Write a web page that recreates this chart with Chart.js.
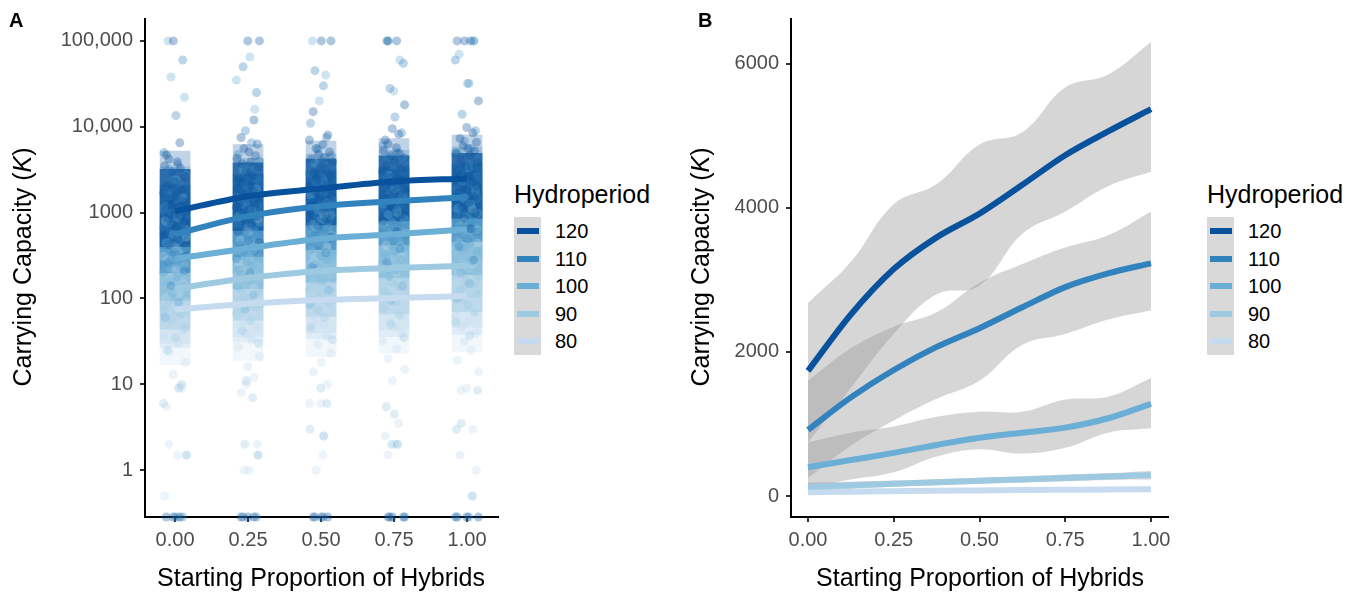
<!DOCTYPE html>
<html>
<head>
<meta charset="utf-8">
<script src="https://cdn.jsdelivr.net/npm/chart.js@4.4.1/dist/chart.umd.min.js"></script>
<style>
  body { margin: 0; background: #fff; width: 1360px; height: 592px; position: relative; overflow: hidden;
         font-family: 'Liberation Sans', Arial, Helvetica, sans-serif; }
  canvas { position: absolute; top: 0; }
  .txt { position: absolute; white-space: nowrap; color: #000; }
  .tag { font-size: 20px; line-height: 20px; font-weight: bold; top: 10px; }
  .xtitle { font-size: 25px; line-height: 25px; top: 565px; transform: translateX(-50%); }
  .ytitle { font-size: 25px; line-height: 25px; top: 267px; transform: translate(-50%, -50%) rotate(-90deg); }
  .ltitle { font-size: 25px; line-height: 25px; top: 182px; }
  .lbox { position: absolute; top: 217px; width: 27px; height: 138px; background: #d9d9d9; }
  .lkey { position: absolute; width: 22px; height: 6px; }
  .llab { font-size: 20px; line-height: 20px; }
</style>
</head>
<body>
<canvas id="chartA" width="505" height="592" style="left:0px;width:505px;height:592px"></canvas>
<canvas id="chartB" width="500" height="592" style="left:680px;width:500px;height:592px"></canvas>

<div class="txt tag" style="left:9px">A</div>
<div class="txt tag" style="left:698px">B</div>
<div class="txt xtitle" style="left:321px">Starting Proportion of Hybrids</div>
<div class="txt xtitle" style="left:980px">Starting Proportion of Hybrids</div>
<div class="txt ytitle" style="left:22px">Carrying Capacity (<i>K</i>)</div>
<div class="txt ytitle" style="left:700px">Carrying Capacity (<i>K</i>)</div>
<div id="legendA"></div>
<div id="legendB"></div>

<script>
// ---- 공통 데이터 ----
const hydroperiods = ['120', '110', '100', '90', '80'];
const hydroColors = ['#08519c', '#3182bd', '#6baed6', '#9ecae1', '#c6dbef'];
const proportions = [0, 0.25, 0.5, 0.75, 1];
const xTickLabels = ['0.00', '0.25', '0.50', '0.75', '1.00'];

// ---- A: 로그 축 ----
const yTicksA = [1, 10, 100, 1000, 10000, 100000];
const yTickLabelsA = ['1', '10', '100', '1000', '10,000', '100,000'];

// 모형 적합선 (A)
const fitA120 = [1040, 1550, 1910, 2300, 2500];
const fitA110 = [560, 910, 1190, 1360, 1510];
const fitA100 = [290, 385, 495, 560, 640];
const fitA90 = [130, 173, 209, 227, 240];
const fitA80 = [74, 87, 96, 101, 107];

// 점이 빽빽하게 겹친 구간 [하한, 상한] (열별)
const coreA120 = [[400, 3200], [620, 3800], [720, 4200], [800, 4600], [860, 4900]];
const coreA110 = [[200, 2100], [310, 2800], [370, 3100], [420, 3400], [460, 3700]];
const coreA100 = [[95, 900], [130, 1200], [155, 1450], [175, 1650], [190, 1850]];
const coreA90 = [[44, 400], [56, 520], [62, 600], [66, 650], [70, 700]];
const coreA80 = [[27, 200], [31, 250], [34, 280], [36, 300], [38, 320]];
// 덜 빽빽한 가장자리 구간
const fringeA120 = [[300, 5200], [450, 6200], [520, 6800], [600, 7300], [650, 8000]];
const fringeA110 = [[140, 3400], [200, 4300], [230, 4800], [260, 5300], [280, 5800]];
const fringeA100 = [[62, 1500], [78, 2000], [88, 2400], [98, 2700], [105, 3000]];
const fringeA90 = [[30, 600], [36, 800], [40, 900], [43, 1000], [46, 1100]];
const fringeA80 = [[17, 320], [19, 380], [21, 420], [23, 450], [24, 480]];

// 관측값 (열 = 시작 잡종 비율 0, .25, .5, .75, 1) ; 0 = 바닥
const obs120 = [
  [0, 0, 0, 310, 420, 500, 560, 620, 680, 730, 790, 850, 910, 970, 1030, 1100, 1170, 1250, 1340, 1450, 1560, 1700, 1850, 2050, 2300, 2600, 3000, 3300, 3500, 3900, 4200, 4700, 6500, 100000],
  [0, 0, 0, 450, 600, 720, 820, 900, 980, 1060, 1150, 1240, 1330, 1430, 1530, 1650, 1780, 1920, 2080, 2250, 2450, 2700, 3000, 3400, 3700, 3900, 4300, 4600, 5100, 5600, 6300, 7500, 12000, 100000, 100000],
  [0, 0, 0, 520, 700, 850, 980, 1100, 1200, 1300, 1400, 1500, 1620, 1750, 1880, 2000, 2150, 2300, 2480, 2700, 2950, 3200, 3500, 3900, 4200, 4400, 4800, 5100, 5600, 6200, 7000, 8000, 15000, 100000, 100000],
  [0, 0, 0, 600, 800, 950, 1080, 1200, 1320, 1450, 1570, 1700, 1830, 1960, 2100, 2250, 2400, 2580, 2780, 3000, 3250, 3550, 3900, 4300, 4600, 4900, 5300, 5700, 6300, 7000, 8200, 9500, 18000, 100000, 100000],
  [0, 0, 0, 650, 850, 1000, 1150, 1300, 1430, 1560, 1700, 1850, 2000, 2150, 2300, 2450, 2620, 2800, 3000, 3250, 3500, 3800, 4150, 4600, 4900, 5200, 5600, 6000, 6600, 7300, 8500, 9800, 20000, 100000, 100000, 100000]
];
const obs110 = [
  [0, 0, 140, 210, 260, 300, 340, 380, 420, 460, 500, 540, 580, 620, 670, 720, 780, 840, 910, 990, 1080, 1200, 1350, 1550, 1800, 2200, 2500, 2800, 3200, 3600, 5000, 60000, 13500],
  [0, 0, 200, 290, 360, 420, 480, 540, 600, 660, 720, 790, 860, 930, 1000, 1080, 1170, 1270, 1380, 1500, 1650, 1850, 2100, 2450, 2900, 3200, 3500, 4000, 4800, 6500, 9000, 25000, 50000],
  [0, 0, 230, 340, 420, 490, 560, 630, 700, 770, 850, 930, 1010, 1100, 1190, 1290, 1400, 1520, 1650, 1800, 1980, 2200, 2500, 2850, 3300, 3700, 4000, 4600, 5500, 7500, 11000, 30000, 45000],
  [0, 0, 260, 380, 470, 550, 630, 710, 790, 870, 950, 1040, 1130, 1230, 1330, 1440, 1560, 1690, 1830, 1990, 2180, 2400, 2700, 3100, 3600, 4000, 4400, 5000, 6000, 8500, 13000, 28000, 55000, 100000],
  [0, 0, 280, 400, 500, 590, 680, 770, 860, 950, 1040, 1140, 1240, 1350, 1460, 1580, 1710, 1850, 2000, 2180, 2380, 2620, 2950, 3400, 4000, 4400, 4900, 5600, 6800, 9000, 14000, 32000, 60000, 100000]
];
const obs100 = [
  [1.5, 60, 90, 115, 140, 160, 180, 200, 220, 240, 260, 280, 300, 325, 350, 380, 410, 450, 500, 560, 640, 740, 880, 1100, 1500, 2400, 38000, 22000, 100000],
  [1.5, 75, 110, 140, 165, 190, 215, 240, 265, 290, 315, 340, 370, 400, 430, 465, 505, 550, 610, 680, 770, 890, 1060, 1350, 1900, 3200, 65000, 35000, 16000],
  [2.5, 85, 125, 160, 190, 220, 250, 280, 310, 340, 370, 400, 435, 470, 510, 550, 600, 660, 730, 820, 930, 1080, 1300, 1650, 2300, 3800, 100000, 40000, 20000],
  [2, 95, 140, 180, 215, 250, 285, 320, 355, 390, 425, 460, 500, 540, 585, 635, 690, 760, 840, 940, 1070, 1250, 1500, 1900, 2700, 4400, 100000, 60000, 26000],
  [0.5, 100, 150, 195, 235, 275, 315, 355, 395, 435, 475, 520, 565, 615, 670, 730, 800, 880, 980, 1100, 1260, 1480, 1800, 2300, 3300, 5200, 100000, 70000, 32000]
];
const obs90 = [
  [6, 10, 25, 35, 45, 55, 65, 75, 85, 95, 105, 115, 125, 135, 145, 158, 172, 188, 205, 225, 250, 285, 330, 400, 520, 800, 9],
  [7, 11, 30, 42, 55, 67, 80, 92, 105, 118, 130, 143, 157, 172, 188, 205, 225, 248, 275, 305, 345, 400, 480, 600, 850, 2],
  [6, 9, 33, 47, 60, 73, 87, 100, 114, 128, 142, 157, 172, 189, 207, 227, 250, 275, 305, 340, 385, 450, 540, 680, 950, 3],
  [5.5, 4.5, 35, 50, 64, 78, 92, 106, 121, 136, 152, 168, 185, 203, 222, 244, 268, 295, 327, 365, 415, 480, 580, 730, 1000, 2],
  [8.5, 3.5, 37, 53, 68, 83, 98, 113, 129, 145, 162, 180, 198, 218, 240, 263, 290, 320, 355, 397, 450, 520, 630, 800, 1100, 3]
];
const obs80 = [
  [0.5, 1.5, 2, 5.5, 9.5, 13, 18, 24, 30, 36, 42, 48, 54, 60, 67, 74, 82, 91, 101, 113, 128, 148, 175, 220, 310, 9],
  [1, 1, 2, 8, 12, 16, 21, 27, 33, 39, 46, 53, 60, 67, 75, 84, 93, 104, 116, 130, 148, 172, 205, 260, 370, 10],
  [1, 1.5, 6, 10, 14, 18, 23, 29, 36, 43, 50, 57, 65, 73, 81, 90, 100, 112, 125, 140, 160, 186, 222, 280, 400, 6],
  [1.5, 2.5, 3.5, 11, 15, 20, 26, 32, 39, 46, 54, 62, 70, 78, 87, 97, 108, 120, 134, 150, 170, 197, 235, 300, 420, 2],
  [1, 1.5, 3, 9, 14, 19, 25, 32, 39, 47, 55, 63, 72, 81, 91, 102, 114, 127, 142, 159, 180, 208, 248, 315, 440, 8.5]
];

// 지터 오프셋 (x 방향)
const jitterOffsets = [-0.030, 0.016, -0.006, 0.036, -0.020, 0.009, -0.038, 0.026, 0.003, -0.014, 0.032,
  -0.024, 0.020, -0.001, 0.039, -0.034, 0.012, -0.009, 0.029, -0.017, 0.006, -0.040, 0.023, -0.027,
  0.001, 0.034, -0.011, 0.018, -0.036, 0.008, -0.021];

// ---- B: 평활선과 신뢰구간 ----
const smoothX = [0, 0.125, 0.25, 0.375, 0.5, 0.625, 0.75, 0.875, 1];
const fitB120 = [1738, 2520, 3150, 3590, 3920, 4320, 4730, 5060, 5370];
const upperB120 = [2680, 3250, 4050, 4330, 4880, 5050, 5670, 5850, 6300];
const lowerB120 = [745, 1500, 2250, 2800, 2920, 3640, 3950, 4300, 4500];
const fitB110 = [920, 1370, 1750, 2070, 2330, 2620, 2900, 3090, 3230];
const upperB110 = [1600, 2050, 2350, 2550, 2960, 3220, 3450, 3620, 3950];
const lowerB110 = [250, 700, 1050, 1350, 1600, 2100, 2250, 2450, 2580];
const fitB100 = [400, 500, 600, 710, 810, 880, 950, 1080, 1280];
const upperB100 = [745, 880, 965, 1100, 1170, 1170, 1340, 1380, 1640];
const lowerB100 = [120, 230, 330, 550, 650, 590, 670, 880, 940];
const fitB90 = [125, 150, 172, 193, 213, 232, 252, 272, 290];
const upperB90 = [190, 200, 215, 235, 255, 275, 300, 320, 350];
const lowerB90 = [60, 100, 130, 150, 170, 190, 205, 225, 230];
const fitB80 = [55, 62, 68, 74, 79, 84, 88, 92, 95];
const upperB80 = [80, 85, 90, 95, 100, 105, 110, 115, 122];
const lowerB80 = [30, 40, 46, 53, 58, 63, 66, 69, 68];
const yTicksB = [0, 2000, 4000, 6000];

// ---- 스타일 ----
const FONT = "'Liberation Sans', Arial, Helvetica, sans-serif";
const TICK_COLOR = '#4d4d4d';
const AXIS_COLOR = '#000000';
const RIBBON = 'rgba(153, 153, 153, 0.4)';
const Y_MIN_A = 0.285;
const Y_MAX_A = 180000;
const CORE_ALPHA = [0.75, 0.55, 0.5, 0.45, 0.4];
const FRINGE_ALPHA = [0.25, 0.22, 0.22, 0.22, 0.22];

Chart.defaults.font.family = FONT;
Chart.defaults.animation = false;

function hexToRgba(hex, a) {
  const n = parseInt(hex.slice(1), 16);
  return `rgba(${(n >> 16) & 255}, ${(n >> 8) & 255}, ${n & 255}, ${a})`;
}

function axisCommon() {
  return {
    offset: false,
    border: { display: true, color: AXIS_COLOR, width: 2 },
    grid: { display: true, offset: false, drawOnChartArea: false, drawTicks: true, tickLength: 5, color: '#333333', lineWidth: 2 },
    ticks: { color: TICK_COLOR, font: { size: 20 }, padding: 7 }
  };
}

function xAxis(min, max) {
  const a = axisCommon();
  return Object.assign(a, {
    type: 'linear', min: min, max: max,
    afterBuildTicks: s => { s.ticks = proportions.map(v => ({ value: v })); },
    afterFit: s => { s.height = 75; },
    ticks: Object.assign(a.ticks, {
      padding: 6, maxRotation: 0, autoSkip: false,
      callback: v => xTickLabels[proportions.indexOf(v)]
    })
  });
}

// ---- A 차트 ----
function jitterPoints(cols, g) {
  const pts = [];
  cols.forEach((vals, c) => {
    vals.forEach((v, i) => {
      const off = jitterOffsets[(i + g * 7 + c * 11) % jitterOffsets.length];
      pts.push({ x: proportions[c] + off, y: v === 0 ? Y_MIN_A : v });
    });
  });
  return pts;
}

function bandBars(ranges, color, alpha, order) {
  return {
    type: 'bar',
    data: ranges.map((r, c) => ({ x: proportions[c], y: r })),
    backgroundColor: hexToRgba(color, alpha),
    borderWidth: 0, barThickness: 30, grouped: false, order: order
  };
}

const obsAll = [obs120, obs110, obs100, obs90, obs80];
const coreAll = [coreA120, coreA110, coreA100, coreA90, coreA80];
const fringeAll = [fringeA120, fringeA110, fringeA100, fringeA90, fringeA80];
const fitAAll = [fitA120, fitA110, fitA100, fitA90, fitA80];

const datasetsA = [];
fitAAll.forEach((fit, g) => {
  datasetsA.push({
    data: fit.map((v, i) => ({ x: proportions[i], y: v })),
    borderColor: hydroColors[g], borderWidth: 6, pointRadius: 0,
    cubicInterpolationMode: 'monotone', fill: false, order: 0, clip: false
  });
});
obsAll.forEach((cols, g) => {
  datasetsA.push({
    data: jitterPoints(cols, g),
    showLine: false, pointRadius: 4.5, pointBorderWidth: 0,
    pointBackgroundColor: hexToRgba(hydroColors[g], 0.33),
    order: 1 + g, clip: false
  });
});
coreAll.forEach((core, g) => datasetsA.push(bandBars(core, hydroColors[g], CORE_ALPHA[g], 6 + g)));
fringeAll.forEach((fr, g) => datasetsA.push(bandBars(fr, hydroColors[g], FRINGE_ALPHA[g], 11 + g)));

const yA = axisCommon();
new Chart(document.getElementById('chartA'), {
  type: 'line',
  data: { datasets: datasetsA },
  options: {
    responsive: false,
    layout: { padding: { top: 17, right: 7, left: 0, bottom: 0 } },
    plugins: { legend: { display: false }, tooltip: { enabled: false } },
    events: [],
    scales: {
      x: xAxis(-0.103, 1.106),
      y: Object.assign(yA, {
        type: 'logarithmic', min: Y_MIN_A, max: Y_MAX_A,
        afterBuildTicks: s => { s.ticks = yTicksA.map(v => ({ value: v })); },
        afterFit: s => { s.width = 145; },
        ticks: Object.assign(yA.ticks, {
          autoSkip: false,
          callback: v => yTickLabelsA[yTicksA.indexOf(v)]
        })
      })
    }
  }
});

// ---- B 차트 ----
const fitBAll = [fitB120, fitB110, fitB100, fitB90, fitB80];
const upperBAll = [upperB120, upperB110, upperB100, upperB90, upperB80];
const lowerBAll = [lowerB120, lowerB110, lowerB100, lowerB90, lowerB80];
const toPts = arr => arr.map((v, i) => ({ x: smoothX[i], y: v }));

const datasetsB = [];
// 신뢰구간 리본
lowerBAll.forEach((lower, g) => {
  datasetsB.push({
    data: toPts(lower), borderWidth: 0, pointRadius: 0, tension: 0.4, fill: false, order: 2
  });
  datasetsB.push({
    data: toPts(upperBAll[g]), borderWidth: 0, pointRadius: 0, tension: 0.4,
    fill: '-1', backgroundColor: RIBBON, order: 2
  });
});
// 평활선
fitBAll.forEach((fit, g) => {
  datasetsB.push({
    data: toPts(fit), borderColor: hydroColors[g], borderWidth: 6, pointRadius: 0,
    cubicInterpolationMode: 'monotone', fill: false, order: 0
  });
});

const yB = axisCommon();
new Chart(document.getElementById('chartB'), {
  type: 'line',
  data: { datasets: datasetsB },
  options: {
    responsive: false,
    layout: { padding: { top: 17, right: 12, left: 0, bottom: 0 } },
    plugins: { legend: { display: false }, tooltip: { enabled: false }, filler: { propagate: false } },
    events: [],
    scales: {
      x: xAxis(-0.0496, 1.0496),
      y: Object.assign(yB, {
        type: 'linear', min: -290, max: 6620,
        afterBuildTicks: s => { s.ticks = yTicksB.map(v => ({ value: v })); },
        afterFit: s => { s.width = 111; },
        ticks: Object.assign(yB.ticks, { autoSkip: false, callback: v => String(v) })
      })
    }
  }
});

// ---- 범례 (HTML) ----
function buildLegend(id, left) {
  const el = document.getElementById(id);
  let html = `<div class="txt ltitle" style="left:${left}px">Hydroperiod</div>`;
  html += `<div class="lbox" style="left:${left}px"></div>`;
  hydroperiods.forEach((h, i) => {
    const cy = 231 + i * 27.5;
    html += `<div class="lkey" style="left:${left + 3}px;top:${cy - 3}px;background:${hydroColors[i]}"></div>`;
    html += `<div class="txt llab" style="left:${left + 41}px;top:${cy - 10}px">${h}</div>`;
  });
  el.innerHTML = html;
}
buildLegend('legendA', 514);
buildLegend('legendB', 1207);
</script>
</body>
</html>
